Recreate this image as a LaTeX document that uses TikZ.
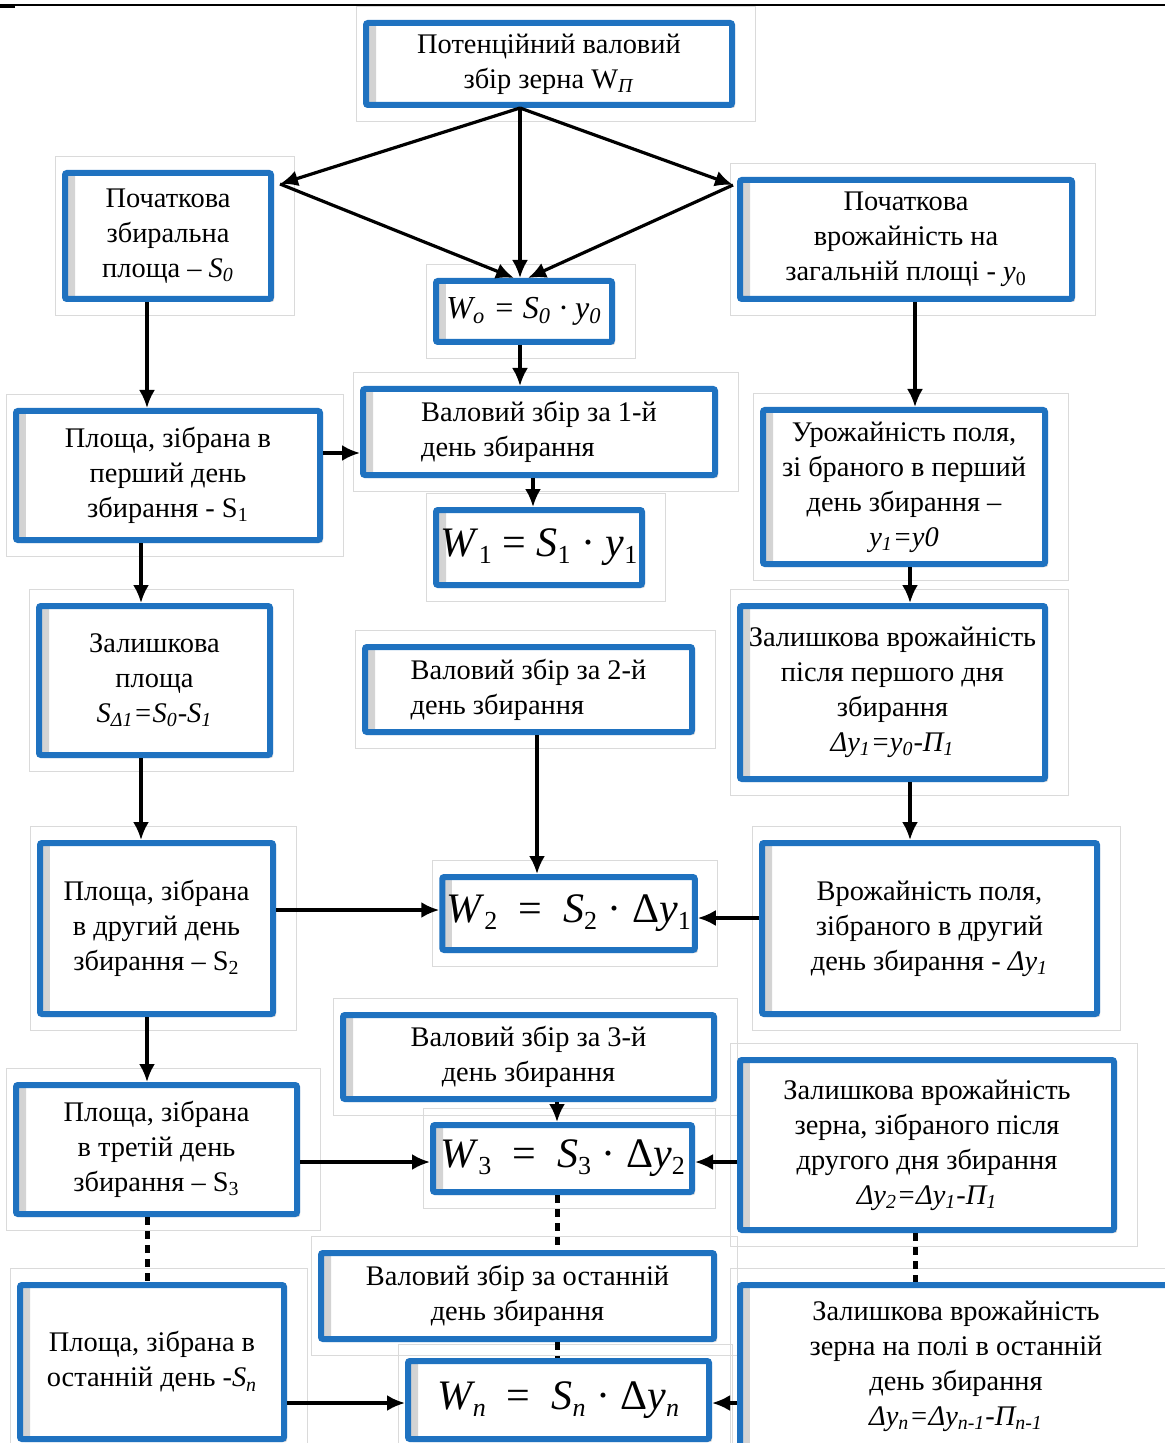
\documentclass[tikz,border=0pt]{standalone}
\usepackage{fontspec}
\setmainfont{Liberation Serif}
\usetikzlibrary{arrows.meta,shadows,backgrounds}
\definecolor{boxblue}{HTML}{1F72C0}
\definecolor{framegray}{HTML}{DADADA}
\newcommand{\sbs}[1]{\textsubscript{#1}}
\newcommand{\lsb}[1]{\raisebox{-0.35ex}{\fontsize{13}{13}\selectfont #1}}

\begin{document}
\begin{tikzpicture}[x=0.5pt,y=-0.5pt, every node/.style={font=\fontsize{14.2}{17.5}\selectfont}, box/.style={draw=boxblue,line width=3pt,rounded corners=1pt,fill=white,align=center,inner sep=2pt,drop shadow={shadow xshift=1.5pt,shadow yshift=-1.5pt,fill=gray!60,opacity=.5},path picture={\shade[left color=gray!35,right color=white] (path picture bounding box.south west) rectangle ([xshift=5pt]path picture bounding box.north west);}}, frml/.style={box,font=\fontsize{21}{24}\selectfont}, arr/.style={-{Latex[length=9pt,width=8pt]},line width=1.6pt}, dots/.style={line width=2.5pt,dash pattern=on 4pt off 3pt}, frame/.style={draw=framegray,line width=0.4pt}]
\useasboundingbox (0,0) rectangle (1165,1443);
\draw[line width=0.8pt] (0,5) -- (1165,5);
\draw[line width=2pt] (0,6) -- (15,6);
\node[box,minimum width=183pt,minimum height=41pt] (pot) at (549,64) {Потенційний валовий\\збір зерна W\sbs{\textit{П}}};
\node[box,minimum width=103pt,minimum height=63pt] (s0) at (168,236) {Початкова\\збиральна\\площа – \textit{S}\sbs{\textit{0}}};
\node[box,minimum width=166pt,minimum height=59.5pt] (y0) at (906,239.5) {Початкова\\врожайність на\\загальній площі - \textit{y}\sbs{0}};
\node[box,font=\fontsize{16}{19}\selectfont,minimum width=88pt,minimum height=30.5pt] (w0) at (524,311.5) {\textit{W\sbs{o} = S\sbs{0} · y\sbs{0}}};
\node[box,minimum width=152pt,minimum height=64.5pt] (s1) at (168,475.5) {Площа, зібрана в\\перший день\\збирання - S\sbs{1}};
\node[box,align=left,minimum width=176pt,minimum height=43pt] (v1) at (539,432) {Валовий збір за 1-й\\день збирання};
\node[frml,minimum width=103pt,minimum height=37.5pt] (w1) at (539,547.5) {\textit{W}\lsb{1} = \textit{S}\lsb{1} · \textit{y}\lsb{1}};
\node[box,minimum width=141pt,minimum height=77pt] (y1) at (904,487) {Урожайність поля,\\зі браного в перший\\день збирання –\\\textit{y\sbs{1}=y0}};
\node[box,minimum width=115.5pt,minimum height=74.5pt] (sd1) at (154.5,680.5) {Залишкова\\площа\\\textit{S\sbs{Δ1}=S\sbs{0}-S\sbs{1}}};
\node[box,align=left,minimum width=163.5pt,minimum height=42.5pt] (v2) at (528.5,689.5) {Валовий збір за 2-й\\день збирання};
\node[box,minimum width=152.5pt,minimum height=86.5pt] (dy1) at (892.5,692.5) {Залишкова врожайність\\після першого дня\\збирання\\\textit{Δy\sbs{1}=y\sbs{0}-П\sbs{1}}};
\node[box,minimum width=116.5pt,minimum height=85.5pt] (s2) at (156.5,928.5) {Площа, зібрана\\в другий день\\збирання – S\sbs{2}};
\node[frml,minimum width=125.5pt,minimum height=36.5pt] (w2) at (568.5,913.5) {\textit{W}\lsb{2}\enspace=\enspace\textit{S}\lsb{2} · Δ\textit{y}\lsb{1}};
\node[box,minimum width=167.5pt,minimum height=85.5pt] (y2) at (929.5,928.5) {Врожайність поля,\\зібраного в другий\\день збирання - \textit{Δy\sbs{1}}};
\node[box,minimum width=185.5pt,minimum height=42pt] (v3) at (528.5,1057) {Валовий збір за 3-й\\день збирання};
\node[box,minimum width=140.5pt,minimum height=64.5pt] (s3) at (156.5,1149.5) {Площа, зібрана\\в третій день\\збирання – S\sbs{3}};
\node[frml,minimum width=129.5pt,minimum height=33.5pt] (w3) at (562.5,1158.5) {\textit{W}\lsb{3}\enspace=\enspace\textit{S}\lsb{3} · Δ\textit{y}\lsb{2}};
\node[box,minimum width=187pt,minimum height=85pt] (dy2) at (927,1145) {Залишкова врожайність\\зерна, зібраного після\\другого дня збирання\\\textit{Δy\sbs{2}=Δy\sbs{1}-П\sbs{1}}};
\node[box,minimum width=196.5pt,minimum height=43pt] (vn) at (517.5,1296) {Валовий збір за останній\\день збирання};
\node[box,minimum width=132pt,minimum height=77pt] (sn) at (152,1362) {Площа, зібрана в\\останній день -\textit{S\sbs{n}}};
\node[frml,minimum width=150.5pt,minimum height=39pt] (wn) at (558.5,1400) {\textit{W\lsb{n}}\enspace=\enspace\textit{S\lsb{n}} · Δ\textit{y\lsb{n}}};
\node[box,minimum width=216pt,minimum height=81pt] (dyn) at (956,1366) {Залишкова врожайність\\зерна на полі в останній\\день збирання\\\textit{Δy\sbs{n}=Δy\sbs{n-1}-П\sbs{n-1}}};
\begin{scope}[on background layer]
\foreach \n in {pot,s0,y0,w0,s1,v1,w1,y1,sd1,v2,dy1,s2,w2,y2,v3,s3,w3,dy2,vn,sn,wn,dyn}
  \draw[frame] ([shift={(-3.5pt,7pt)}]\n.north west) rectangle ([shift={(10pt,-6.5pt)}]\n.south east);
\end{scope}
\coordinate (xm) at (520,0);
\coordinate (xm2) at (533,0);
\coordinate (xm3) at (537,0);
\coordinate (xm4) at (557,0);
\coordinate (xl1) at (147,0);
\coordinate (xl2) at (141,0);
\coordinate (xr1) at (915,0);
\coordinate (xr2) at (910,0);
\coordinate (yr1) at (0,453);
\coordinate (yr2) at (0,910);
\coordinate (yr3) at (0,918);
\coordinate (yr4) at (0,1162);
\coordinate (yr5) at (0,1403);
\coordinate (s0in) at ([xshift=3pt,yshift=-7pt]s0.north east);
\coordinate (y0in) at ([xshift=-2pt,yshift=-4pt]y0.north west);
\coordinate (w0l) at (514,0);
\coordinate (w0r) at (528,0);
\draw[arr] (pot.south -| xm) -- (s0in);
\draw[arr] (pot.south -| xm) -- (w0.north -| xm);
\draw[arr] (pot.south -| xm) -- (y0in);
\draw[arr] (s0in) -- (w0.north -| w0l);
\draw[arr] (y0in) -- (w0.north -| w0r);
\draw[arr] (s0.south -| xl1) -- (s1.north -| xl1);
\draw[arr] (y0.south -| xr1) -- (y1.north -| xr1);
\draw[arr] (w0.south -| xm) -- (v1.north -| xm);
\draw[arr] (s1.east |- yr1) -- (v1.west |- yr1);
\draw[arr] (v1.south -| xm2) -- (w1.north -| xm2);
\draw[arr] (s1.south -| xl2) -- (sd1.north -| xl2);
\draw[arr] (y1.south -| xr2) -- (dy1.north -| xr2);
\draw[arr] (sd1.south -| xl2) -- (s2.north -| xl2);
\draw[arr] (dy1.south -| xr2) -- (y2.north -| xr2);
\draw[arr] (v2.south -| xm3) -- (w2.north -| xm3);
\draw[arr] (s2.east |- yr2) -- (w2.west |- yr2);
\draw[arr] (y2.west |- yr3) -- (w2.east |- yr3);
\draw[arr] (s2.south -| xl1) -- (s3.north -| xl1);
\draw[arr] (v3.south -| xm4) -- (w3.north -| xm4);
\draw[arr] (s3.east |- yr4) -- (w3.west |- yr4);
\draw[arr] (dy2.west |- yr4) -- (w3.east |- yr4);
\draw[dots] (s3.south -| xl1) -- (sn.north -| xl1);
\draw[dots] (w3.south -| xm4) -- (vn.north -| xm4);
\draw[dots] (dy2.south -| xr1) -- (dyn.north -| xr1);
\draw[dots] (vn.south -| xm4) -- (wn.north -| xm4);
\draw[arr] (sn.east |- yr5) -- (wn.west |- yr5);
\draw[arr] (dyn.west |- yr5) -- (wn.east |- yr5);
\end{tikzpicture}
\end{document}
